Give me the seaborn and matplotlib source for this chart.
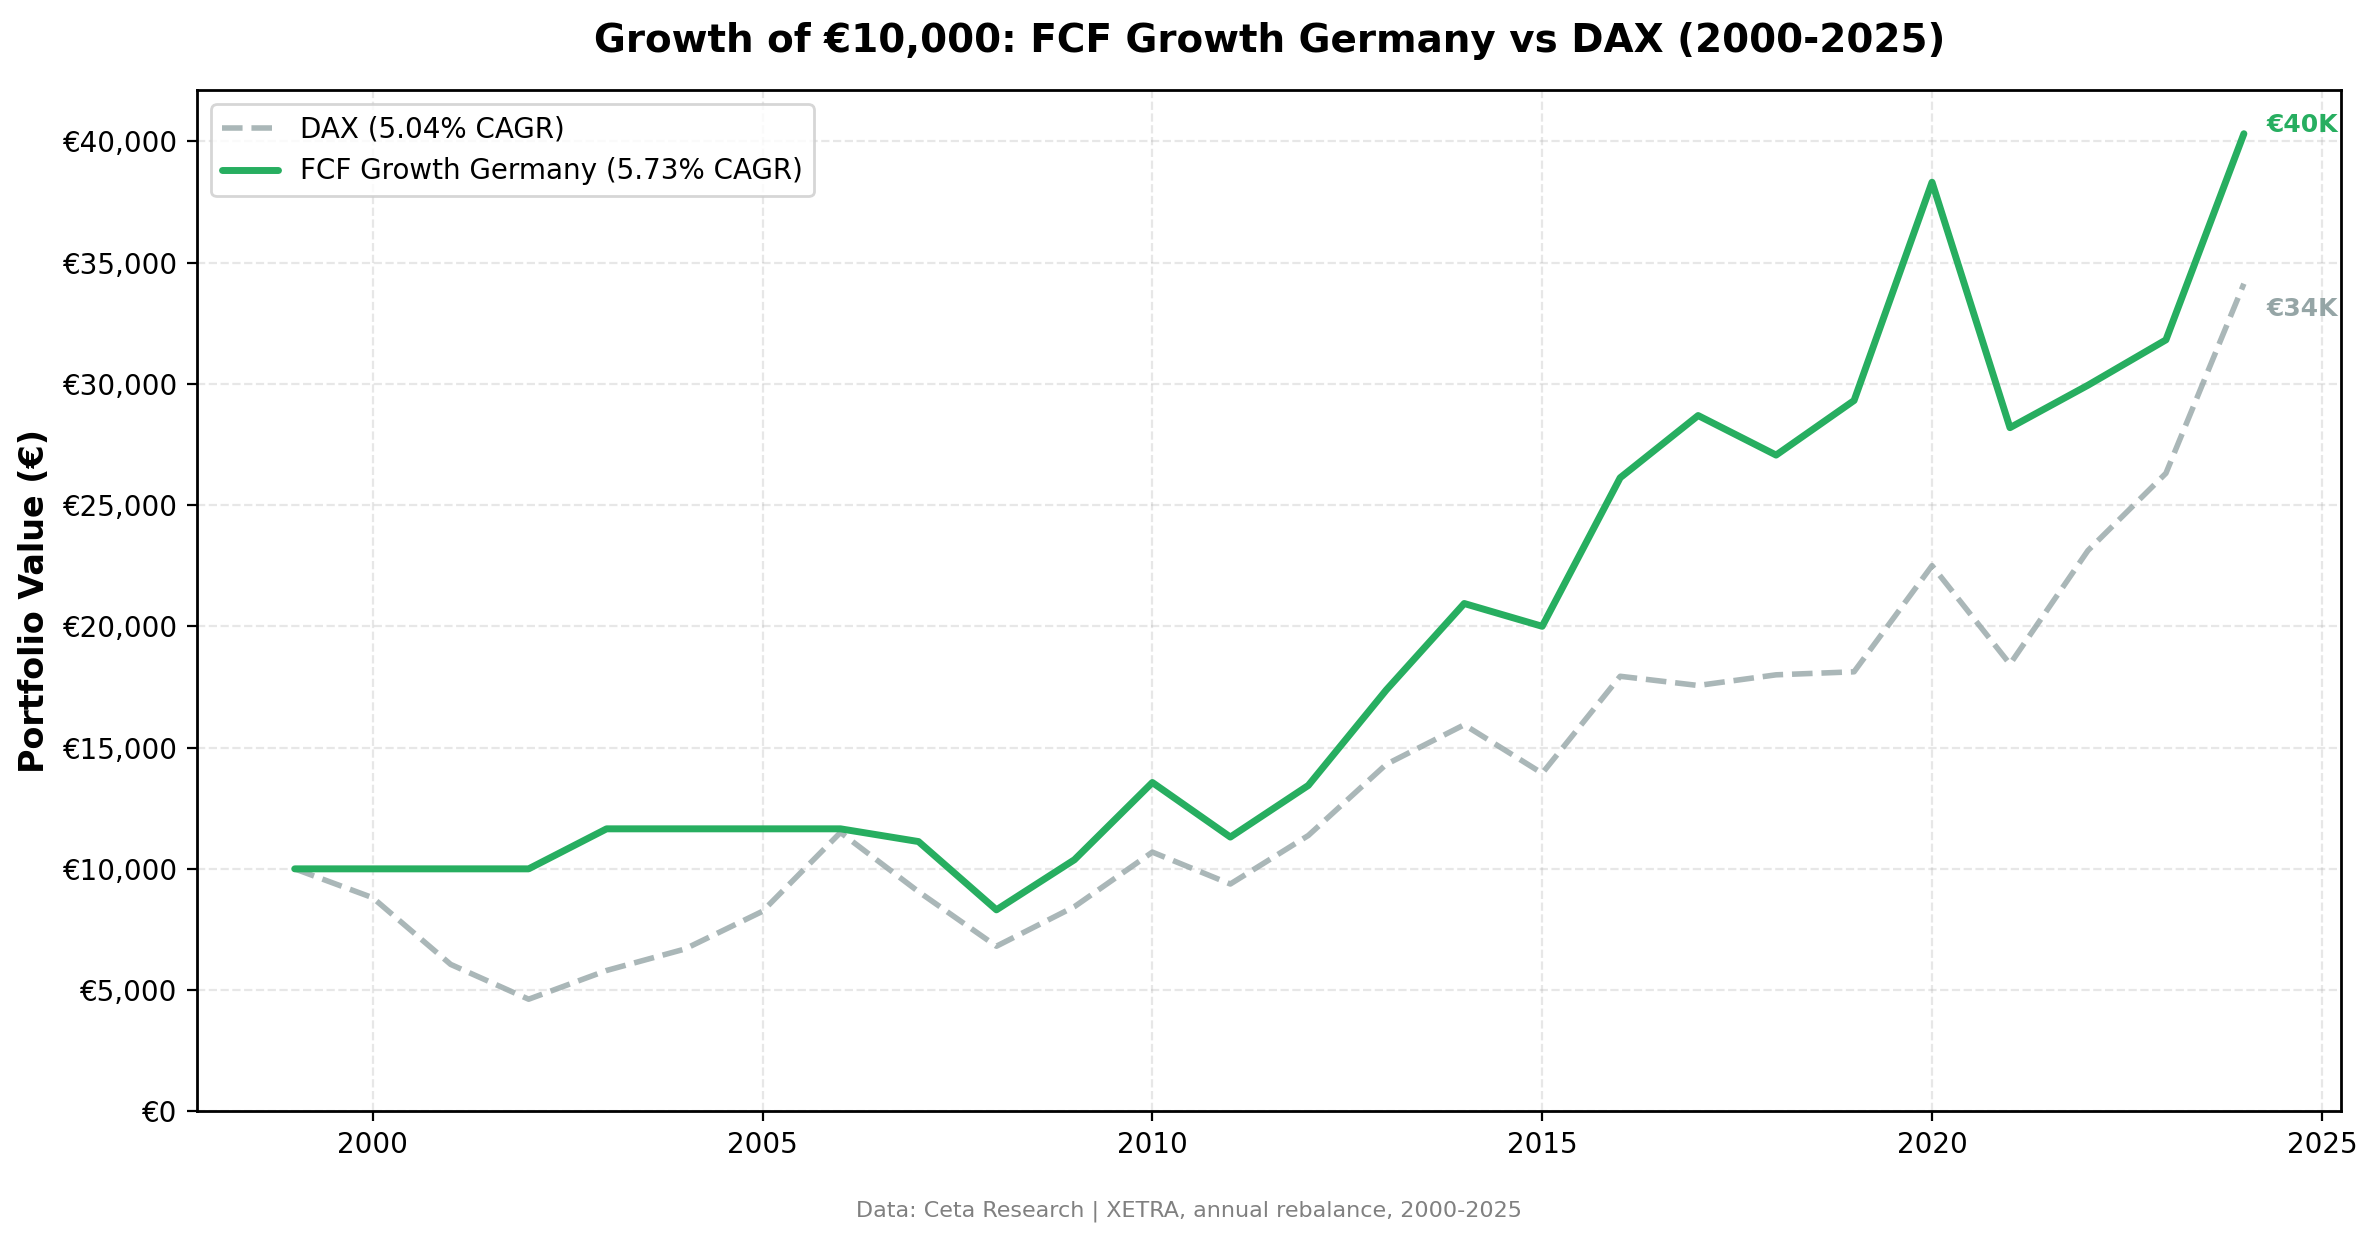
import numpy as np
import pandas as pd
import matplotlib
matplotlib.use("Agg")
import matplotlib.pyplot as plt
import seaborn as sns

# Portfolio values (start of each year)
years = list(range(1999, 2025))
fcf_values = [10000, 10000, 10000, 10000, 11650, 11650, 11650, 11650, 11125, 8310,
              10375, 13560, 11310, 13440, 17375, 20940, 20000, 26125, 28690, 27060,
              29310, 38310, 28190, 29940, 31810, 40310]
dax_values = [10000, 8810, 6060, 4625, 5810, 6690, 8250, 11500, 9060, 6810,
              8440, 10690, 9375, 11375, 14310, 15940, 13940, 17940, 17560, 18000,
              18125, 22500, 18440, 23125, 26310, 34125]

fcf_label = "FCF Growth Germany (5.73% CAGR)"
dax_label = "DAX (5.04% CAGR)"
green = "#27ae60"
grey = "#95a5a6"

df = pd.DataFrame({"Year": years, "FCF": fcf_values, "DAX": dax_values})

sns.set_style("ticks", {"text.color": "black", "axes.labelcolor": "black",
                        "xtick.color": "black", "ytick.color": "black",
                        "axes.edgecolor": "black"})
plt.rcParams["font.family"] = ["DejaVu Sans"]

fig = plt.figure(figsize=(2377 / 200, 1239 / 200), dpi=200)
ax = fig.add_axes([0.083, 0.103, 0.902, 0.824])

sns.lineplot(data=df, x="Year", y="DAX", ax=ax, color=grey, linewidth=2,
             linestyle="--", alpha=0.8, label=dax_label)
sns.lineplot(data=df, x="Year", y="FCF", ax=ax, color=green, linewidth=2.5,
             label=fcf_label)

# end labels
ax.annotate("€%dK" % round(fcf_values[-1] / 1000), (years[-1], fcf_values[-1]),
            xytext=(8, 3), textcoords="offset points", color=green,
            fontsize=9, fontweight="bold", va="center")
ax.annotate("€%dK" % round(dax_values[-1] / 1000), (years[-1], dax_values[-1]),
            xytext=(8, -9), textcoords="offset points", color=grey,
            fontsize=9, fontweight="bold", va="center")

ax.set_ylim(bottom=0)
ax.yaxis.set_major_formatter(matplotlib.ticker.FuncFormatter(lambda v, p: "€{:,.0f}".format(v)))
ax.set_xlabel("")
ax.set_ylabel("Portfolio Value (€)", fontsize=12, fontweight="bold")
ax.set_title("Growth of €10,000: FCF Growth Germany vs DAX (2000-2025)",
             fontsize=14, fontweight="bold", pad=14)
ax.tick_params(labelsize=10)
ax.grid(True, linestyle="--", color="#b0b0b0", alpha=0.3)
for s in ax.spines.values():
    s.set_linewidth(1)
ax.legend(loc="upper left", fontsize=10)

fig.text(0.5, 0.018, "Data: Ceta Research | XETRA, annual rebalance, 2000-2025",
         ha="center", fontsize=8, color="gray")

fig.savefig("out.png", dpi=200)
